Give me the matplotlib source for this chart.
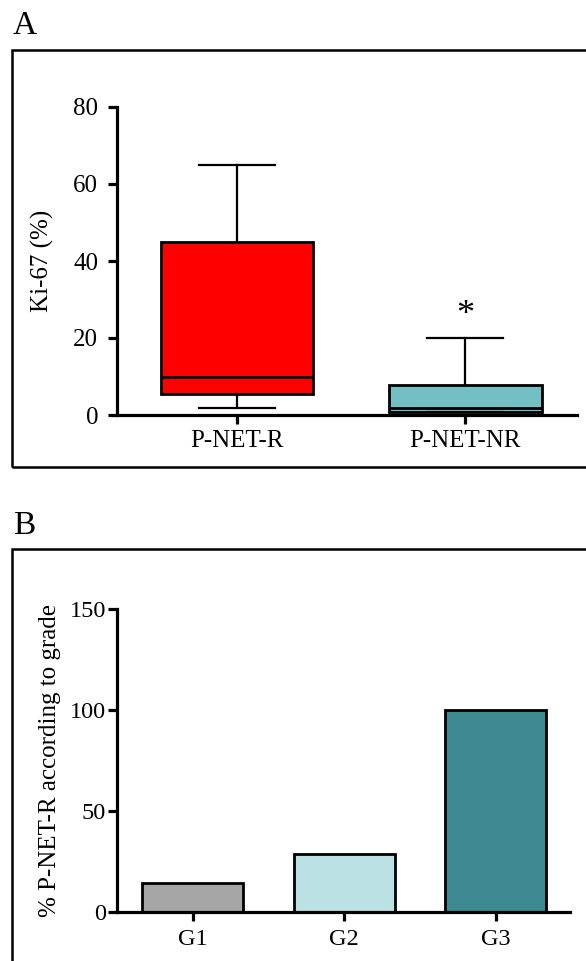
import matplotlib
matplotlib.use("Agg")
import matplotlib.pyplot as plt
from matplotlib.patches import Rectangle

plt.rcParams['font.family'] = ['Liberation Serif', 'DejaVu Serif']

# panel A: Ki-67 box plot
groups = ['P-NET-R', 'P-NET-NR']
whislo = [1.8, 0.8]
q1 = [5.5, 0.8]
med = [9.9, 1.8]
q3 = [44.9, 7.8]
whishi = [64.9, 20]
box_colors = ['#ff0000', '#72bfc4']

# panel B: % responders by grade
grades = ['G1', 'G2', 'G3']
pct = [14.4, 28.7, 100]
bar_colors = ['#a6a6a6', '#bce1e4', '#3d8b91']

W, H = 586, 961
fig = plt.figure(figsize=(W / 100, H / 100), dpi=100)


def fx(px):
    return px / W


def fy(py):
    return 1 - py / H


# panel frames
fig.patches.append(Rectangle((fx(12), fy(467)), 1.0, (467 - 50) / H, transform=fig.transFigure,
                             fill=False, lw=1.8, ec='black'))
fig.patches.append(Rectangle((fx(12), -0.02), 1.0, fy(549) + 0.02, transform=fig.transFigure,
                             fill=False, lw=1.8, ec='black'))
fig.text(fx(13), fy(34), 'A', fontsize=24)
fig.text(fx(13), fy(534), 'B', fontsize=24)


def style(ax, ypad, xpad, size):
    for s in ['top', 'right']:
        ax.spines[s].set_visible(False)
    for s in ['left', 'bottom']:
        ax.spines[s].set_linewidth(2.3)
    ax.tick_params(width=2.3, length=6.5, labelsize=size, direction='out')
    ax.tick_params(axis='y', pad=ypad)
    ax.tick_params(axis='x', pad=xpad)


# A
ax1 = fig.add_axes([fx(117), fy(415), (577 - 117) / W, (415 - 107) / H])
stats = []
for i in range(len(groups)):
    stats.append(dict(whislo=whislo[i], q1=q1[i], med=med[i], q3=q3[i], whishi=whishi[i], fliers=[]))
bp = ax1.bxp(stats, positions=[0, 1], widths=0.67, patch_artist=True, showfliers=False,
             capwidths=0.335,
             boxprops=dict(lw=2, ec='black'), medianprops=dict(color='black', lw=2),
             whiskerprops=dict(lw=1.6), capprops=dict(lw=1.6))
for patch, c in zip(bp['boxes'], box_colors):
    patch.set_facecolor(c)
ax1.set_xlim(-0.526, 1.49)
ax1.set_ylim(0, 80)
ax1.set_yticks([0, 20, 40, 60, 80])
ax1.set_xticks([0, 1])
ax1.set_xticklabels(groups)
ax1.set_ylabel('Ki-67 (%)', fontsize=18, labelpad=14)
ax1.text(1, 21.5, '*', ha='center', va='bottom', fontsize=26)
style(ax1, 7, 4, 18)

# B
ax2 = fig.add_axes([fx(117), fy(912), (570 - 117) / W, (912 - 609) / H])
ax2.bar(range(len(grades)), pct, width=0.667, color=bar_colors, edgecolor='black', lw=2)
ax2.set_xlim(-0.50, 2.49)
ax2.set_ylim(0, 150)
ax2.set_yticks([0, 50, 100, 150])
ax2.set_xticks(range(len(grades)))
ax2.set_xticklabels(grades)
ax2.set_ylabel('% P-NET-R according to grade', fontsize=18, labelpad=6)
style(ax2, 1.5, 6, 17.5)

fig.savefig('out.png', dpi=100)
